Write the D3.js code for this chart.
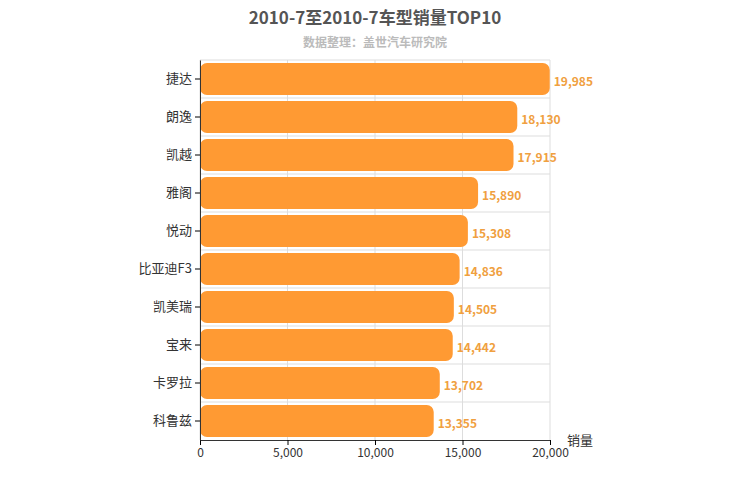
<!DOCTYPE html>
<html><head><meta charset="utf-8">
<script src="https://cdn.jsdelivr.net/npm/d3@7"></script>
<style>body{margin:0;background:#fff}text{font-family:"Noto Sans CJK SC","Noto Sans",sans-serif}</style>
</head><body><svg width="750" height="500"></svg>
<script>
const categories=["捷达","朗逸","凯越","雅阁","悦动","比亚迪F3","凯美瑞","宝来","卡罗拉","科鲁兹"];
const values=[19985,18130,17915,15890,15308,14836,14505,14442,13702,13355];
const ticks=[0,5000,10000,15000,20000];
const svg=d3.select("svg");
const L=200,R=550,T=60,B=440;
const x=d3.scaleLinear().domain([0,20000]).range([L,R]);
const y=d3.scaleBand().domain(categories).range([T,B]).paddingInner(0.16).paddingOuter(0.08);
const yb=d3.scaleBand().domain(categories).range([T,B]);
svg.append("g").selectAll("line").data(ticks).join("line")
 .attr("x1",d=>x(d)).attr("x2",d=>x(d)).attr("y1",T).attr("y2",B).attr("stroke","#ddd");
svg.append("g").selectAll("line").data(categories).join("line")
 .attr("x1",L).attr("x2",R).attr("y1",d=>yb(d)).attr("y2",d=>yb(d)).attr("stroke","#ddd");
svg.append("g").selectAll("rect").data(values).join("rect")
 .attr("x",L).attr("y",(d,i)=>y(categories[i])).attr("width",d=>x(d)-L).attr("height",y.bandwidth())
 .attr("rx",7).attr("fill","#ff9a33");
svg.append("g").selectAll("text").data(values).join("text")
 .attr("x",d=>x(d)+4).attr("y",(d,i)=>y(categories[i])+y.bandwidth()/2+7)
 .attr("fill","#f0a040").attr("font-size",12).attr("font-weight","bold").text(d=>d3.format(",")(d));
const gx=svg.append("g").attr("transform",`translate(0,${B})`).call(d3.axisBottom(x).tickValues(ticks).tickFormat(d3.format(",")).tickSizeOuter(0).tickSize(5));
gx.select(".domain").attr("stroke","#333");
gx.selectAll("text").attr("font-size",12).attr("fill","#333");
const gy=svg.append("g").attr("transform",`translate(${L},0)`).call(d3.axisLeft(yb).tickSize(5).tickSizeOuter(0));
gy.select(".domain").attr("stroke","#333");
gy.selectAll("text").attr("font-size",13).attr("fill","#333");
svg.append("text").attr("x",580).attr("y",445).attr("text-anchor","middle").attr("font-size",13).attr("fill","#333").text("销量");
svg.append("text").attr("x",375).attr("y",24).attr("text-anchor","middle").attr("font-size",17).attr("font-weight","bold").attr("fill","#555").text("2010-7至2010-7车型销量TOP10");
svg.append("text").attr("x",375).attr("y",47).attr("text-anchor","middle").attr("font-size",12).attr("font-weight","bold").attr("fill","#bbb").text("数据整理：盖世汽车研究院");
</script></body></html>
